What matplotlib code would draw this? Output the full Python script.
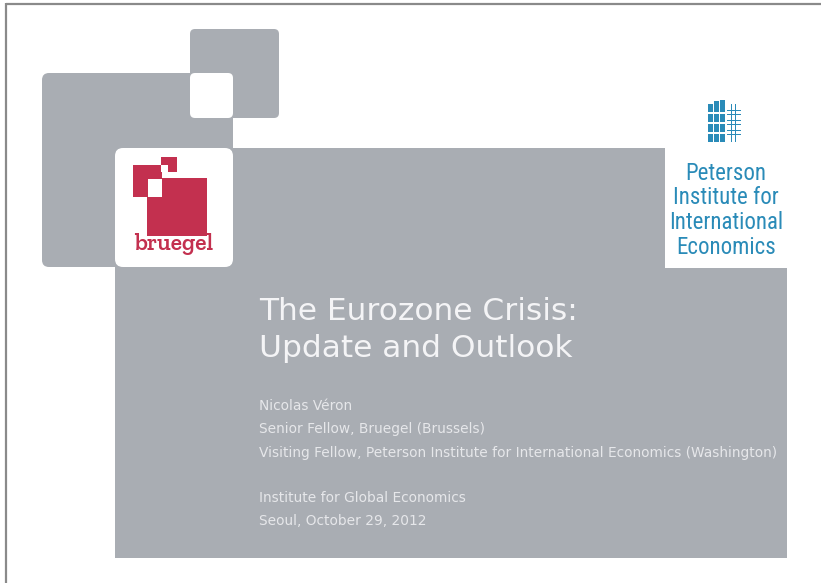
import matplotlib
matplotlib.use("Agg")
import matplotlib.pyplot as plt
from matplotlib.patches import FancyBboxPatch, Rectangle

# ---- content ----
title_lines = ["The Eurozone Crisis:", "Update and Outlook"]
author_lines = ["Nicolas Véron",
                "Senior Fellow, Bruegel (Brussels)",
                "Visiting Fellow, Peterson Institute for International Economics (Washington)"]
event_lines = ["Institute for Global Economics", "Seoul, October 29, 2012"]
pie_lines = ["Peterson", "Institute for", "International", "Economics"]
bruegel_name = "bruegel"

GRAY = "#a9adb3"
RED = "#c3304f"
TEAL = "#2a8bb8"
TXT = "#f4f4f6"
SUB = "#e6e7ea"

W, H = 821, 583
fig = plt.figure(figsize=(W / 100, H / 100), dpi=100)
ax = fig.add_axes([0, 0, 1, 1])
ax.set_xlim(0, W)
ax.set_ylim(H, 0)
ax.axis("off")
fig.patch.set_facecolor("white")


def rrect(x0, y0, x1, y1, color, r=6, z=1):
    p = FancyBboxPatch((x0 + r, y0 + r), (x1 - x0) - 2 * r, (y1 - y0) - 2 * r,
                       boxstyle=f"round,pad={r}", fc=color, ec="none", zorder=z)
    ax.add_patch(p)


def rect(x0, y0, x1, y1, color, z=1):
    ax.add_patch(Rectangle((x0, y0), x1 - x0, y1 - y0, fc=color, ec="none", zorder=z))


# background shapes
rect(115, 148, 787, 558, GRAY, z=1)
rrect(42, 73, 233, 267, GRAY, r=7, z=2)
rrect(190, 29, 279, 118, GRAY, r=5, z=2)
rrect(190, 73, 233, 118, "white", r=5, z=3)
rrect(115, 148, 233, 267, "white", r=8, z=3)
rect(665, 90, 787, 268, "white", z=3)

# bruegel logo
rect(133, 165, 162, 197, RED, z=4)
rect(147, 178, 207, 236, RED, z=4)
rect(148, 179, 162, 197, "white", z=5)
rect(161, 157, 177, 172, RED, z=4)
rect(161, 165, 168, 172, "white", z=5)
ax.text(174, 250, bruegel_name, family=["Zilla Slab", "DejaVu Serif"], weight="semibold",
        fontsize=17, color=RED, ha="center", va="baseline", zorder=6)

# Peterson icon
for x0, y0 in [(708, 104), (714, 101), (720, 100)]:
    rect(x0, y0, x0 + 5, 142, TEAL, z=4)
for yy in [112, 122, 132]:
    rect(706, yy, 741, yy + 1.6, "white", z=5)
    rect(727, yy - 2, 741, yy - 0.6, TEAL, z=5)
    rect(727, yy + 2.2, 741, yy + 3.4, TEAL, z=5)
rect(731, 104, 732.2, 142, TEAL, z=5)
rect(735, 104, 736.2, 142, TEAL, z=5)

pie_base = [179.5, 204.5, 229, 253.5]
for s, y in zip(pie_lines, pie_base):
    ax.text(726, y, s, family=["Roboto Condensed", "DejaVu Sans"], fontstretch="condensed",
            fontsize=16.5, color=TEAL, ha="center", va="baseline", zorder=6)

# title
for s, y in zip(title_lines, [320, 357]):
    ax.text(259, y, s, family="DejaVu Sans", fontsize=22.5, color=TXT,
            ha="left", va="baseline", zorder=6)

for s, y in zip(author_lines, [410.5, 433.5, 456.5]):
    ax.text(259, y, s, family="DejaVu Sans", fontsize=9.9, color=SUB,
            ha="left", va="baseline", zorder=6)
for s, y in zip(event_lines, [502, 525]):
    ax.text(259, y, s, family="DejaVu Sans", fontsize=9.9, color=SUB,
            ha="left", va="baseline", zorder=6)

# slide frame
ax.plot([6, 821], [3.5, 3.5], color="#8a8a8a", lw=1.6, zorder=7, solid_capstyle="butt")
ax.plot([6, 6], [3, 583], color="#8a8a8a", lw=1.6, zorder=7, solid_capstyle="butt")

fig.savefig("out.png", dpi=100, facecolor="white")
